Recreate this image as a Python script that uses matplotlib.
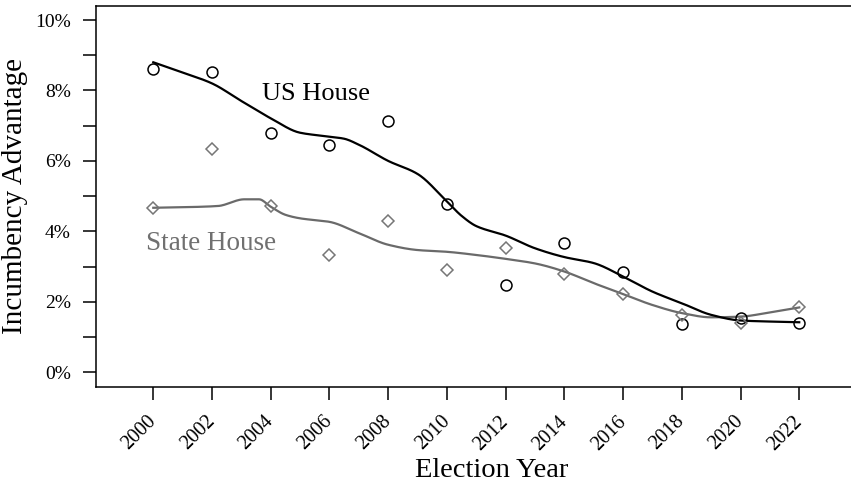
import numpy as np
import matplotlib
matplotlib.use("Agg")
import matplotlib.pyplot as plt
from matplotlib.ticker import FixedLocator, FuncFormatter

plt.rcParams['font.family'] = ['Liberation Serif', 'DejaVu Serif']

# Observed incumbency advantage (percentage points) by election year
years = [2000, 2002, 2004, 2006, 2008, 2010, 2012, 2014, 2016, 2018, 2020, 2022]
us_house = [8.61, 8.52, 6.78, 6.45, 7.13, 4.78, 2.47, 3.68, 2.84, 1.37, 1.53, 1.41]
state_house = [4.67, 6.33, 4.72, 3.33, 4.30, 2.90, 3.54, 2.79, 2.21, 1.63, 1.39, 1.86]

# Smoothed trend estimates
us_trend_years = [2000, 2001, 2002, 2003, 2004, 2005, 2006, 2006.5, 2007, 2008, 2009,
                  2010, 2010.5, 2011, 2012, 2013, 2014, 2015, 2016, 2017, 2018, 2019,
                  2020, 2021, 2022]
us_trend = [8.80, 8.51, 8.20, 7.70, 7.21, 6.80, 6.69, 6.63, 6.46, 6.00, 5.63,
            4.85, 4.44, 4.15, 3.88, 3.52, 3.27, 3.10, 2.72, 2.29, 1.96, 1.63,
            1.47, 1.44, 1.42]
state_trend_years = [2000, 2001, 2002.2, 2003.1, 2003.6, 2004, 2004.5, 2005, 2006, 2007,
                     2008, 2009, 2010, 2011, 2012, 2013, 2014, 2015, 2016, 2017,
                     2018, 2019, 2020, 2021, 2022]
state_trend = [4.67, 4.685, 4.72, 4.91, 4.91, 4.70, 4.47, 4.37, 4.27, 3.95,
               3.62, 3.47, 3.42, 3.33, 3.22, 3.09, 2.86, 2.53, 2.22, 1.91,
               1.68, 1.56, 1.58, 1.70, 1.84]

y_ticks = [0, 2, 4, 6, 8, 10]
y_minor = [1, 3, 5, 7, 9]
x_ticks = years


def pchip(x, y, xs):
    """Shape-preserving piecewise cubic Hermite interpolation."""
    x = np.asarray(x, float)
    y = np.asarray(y, float)
    h = np.diff(x)
    d = np.diff(y) / h
    n = len(x)
    m = np.zeros(n)
    for k in range(1, n - 1):
        if d[k - 1] * d[k] > 0:
            w1 = 2 * h[k] + h[k - 1]
            w2 = h[k] + 2 * h[k - 1]
            m[k] = (w1 + w2) / (w1 / d[k - 1] + w2 / d[k])
    m[0] = d[0]
    m[-1] = d[-1]
    idx = np.clip(np.searchsorted(x, xs) - 1, 0, n - 2)
    t = (xs - x[idx]) / h[idx]
    h00 = 2 * t**3 - 3 * t**2 + 1
    h10 = t**3 - 2 * t**2 + t
    h01 = -2 * t**3 + 3 * t**2
    h11 = t**3 - t**2
    return (h00 * y[idx] + h10 * h[idx] * m[idx]
            + h01 * y[idx + 1] + h11 * h[idx] * m[idx + 1])


fig = plt.figure(figsize=(8.51, 4.83), dpi=100)
ax = fig.add_axes([0.1125, 0.1994, 0.9302, 0.7888])

us_col = "black"
st_col = "#6a6a6a"

xs = np.linspace(2000, 2022, 600)
ax.plot(xs, pchip(us_trend_years, us_trend, xs), color=us_col, lw=1.6, zorder=3)
ax.plot(xs, pchip(state_trend_years, state_trend, xs), color=st_col, lw=1.6, zorder=2)

ax.plot(years, us_house, linestyle="none", marker="o", ms=7.9, mfc="none",
        mec=us_col, mew=1.1, zorder=4)
ax.plot(years, state_house, linestyle="none", marker="D", ms=5.9, mfc="none",
        mec="#767676", mew=1.1, zorder=4)

ax.text(2003.70, 7.73, "US House", fontsize=19, color=us_col,
        ha="left", va="baseline")
ax.text(1999.75, 3.47, "State House", fontsize=19.5, color="#707070",
        ha="left", va="baseline")

ax.set_xlim(1998.04, 2025.0)
ax.set_ylim(-0.409, 10.406)

ax.yaxis.set_major_locator(FixedLocator(y_ticks))
ax.yaxis.set_minor_locator(FixedLocator(y_minor))
ax.yaxis.set_major_formatter(FuncFormatter(lambda v, p: f"{v:g}%"))
ax.xaxis.set_major_locator(FixedLocator(x_ticks))

ax.tick_params(axis="y", which="both", length=9.4, width=1.1, direction="out",
               labelsize=14, pad=8.5)
ax.tick_params(axis="x", which="major", length=9.1, width=1.1, direction="out",
               labelsize=14.5, pad=14)
for lab in ax.get_xticklabels():
    lab.set_rotation(45)
    lab.set_rotation_mode("anchor")
    lab.set_ha("right")
    lab.set_va("center")

for s in ax.spines.values():
    s.set_linewidth(1.1)

ax.set_xlabel("Election Year", fontsize=20.5, labelpad=3)
ax.set_ylabel("Incumbency Advantage", fontsize=21, labelpad=5)

fig.savefig("out.png", dpi=100)
